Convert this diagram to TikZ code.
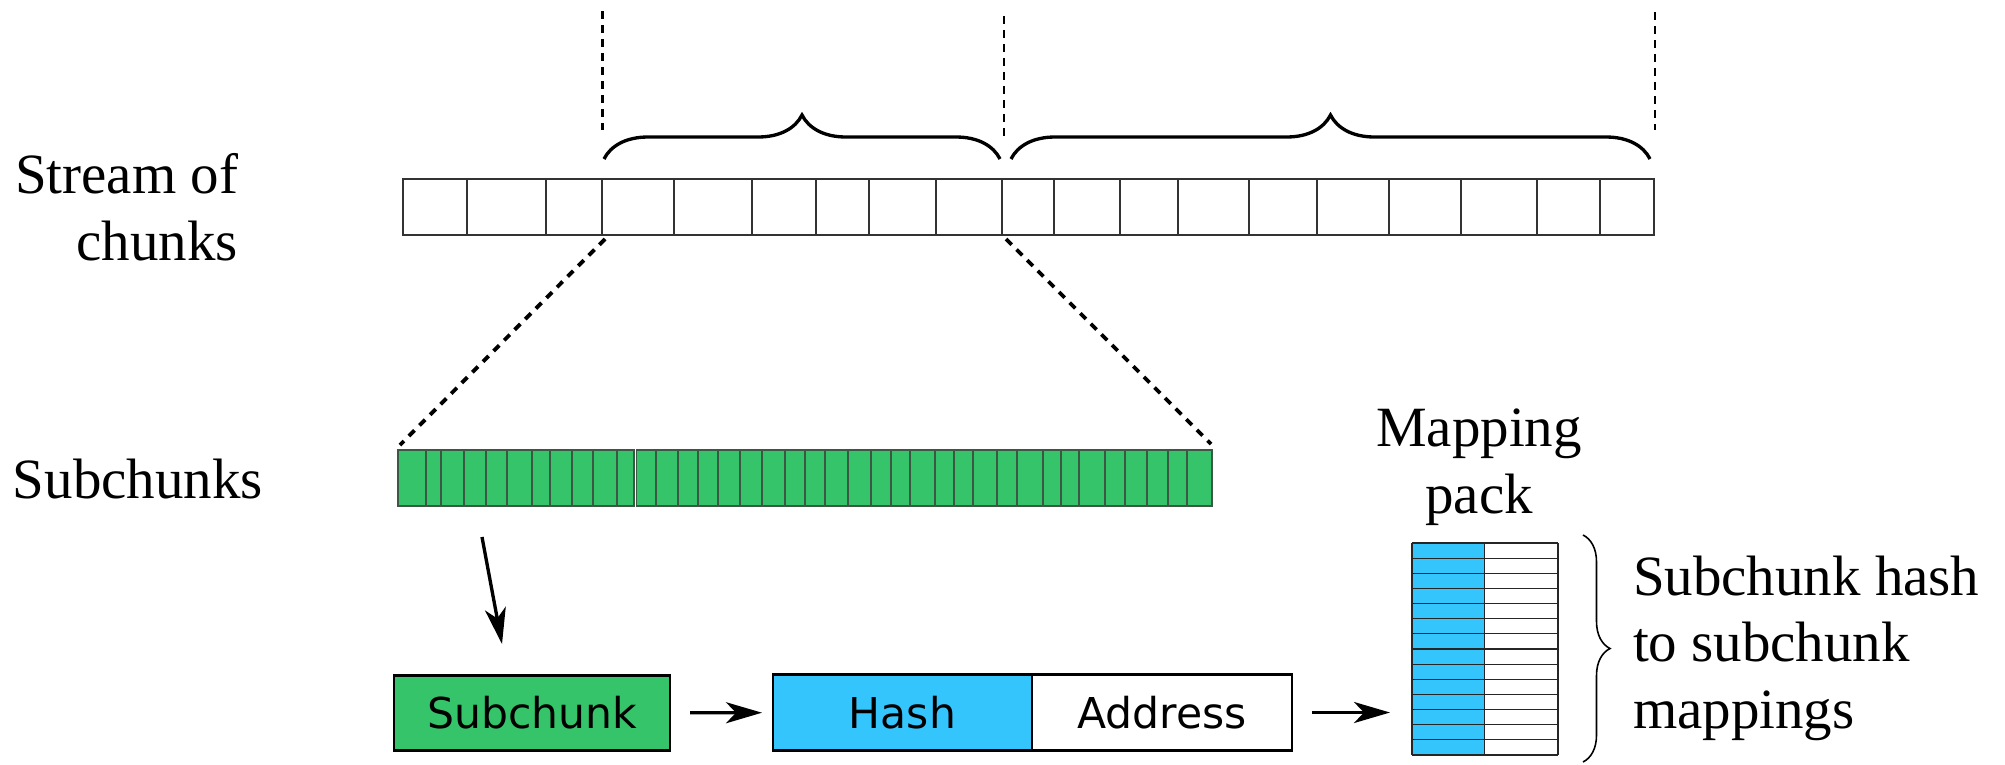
\documentclass[tikz,border=0pt]{standalone}
\usepackage{fontspec}
\setmainfont{Liberation Serif}
\newfontfamily\boxfont{DejaVu Sans}
\usetikzlibrary{decorations.pathreplacing,arrows.meta}
\definecolor{subgreen}{RGB}{53,196,106}
\definecolor{hashblue}{RGB}{52,197,253}
\definecolor{cellline}{RGB}{60,88,68}
\begin{document}
\begin{tikzpicture}[x=0.1mm,y=-0.1mm,
  lbl/.style={font=\fontsize{16.2}{18.9}\selectfont, inner sep=0, outer sep=0},
  boxtxt/.style={font=\boxfont\fontsize{12.1}{14}\selectfont},
  fieldbox/.style={draw=black, line width=0.75pt, minimum height=7.55mm, inner sep=0, outer sep=0, boxtxt},
  arr/.style={line width=0.95pt, -{Stealth[length=3.6mm,width=2.1mm,inset=1mm]}},
  vdash/.style={line width=0.6pt, dash pattern=on 0.8mm off 0.6mm},
  ddash/.style={line width=1.1pt, dash pattern=on 0.8mm off 0.7mm},
  chunkcell/.style={draw=black!80, line width=0.45pt, fill=white},
  subcell/.style={draw=cellline, line width=0.4pt, fill=subgreen},
  bigbrace/.style={decorate, decoration={brace, amplitude=4.4mm}, line width=0.95pt},
  smallbrace/.style={decorate, decoration={brace, amplitude=2.7mm}, line width=0.45pt},
  tline/.style={draw=black!85, line width=0.35pt}
]
\useasboundingbox (0,0) rectangle (2005,764);

% labels (base anchor = baseline of the last line)
\node[lbl, align=right, anchor=base east] (stream) at (238,260) {Stream of\\chunks};
\node[lbl, anchor=base west] (subs) at (13,498) {Subchunks};
\node[lbl, align=center, anchor=base] (mp) at (1479,513) {Mapping\\pack};
\node[lbl, align=left, anchor=base west] (desc) at (1633,728) {Subchunk hash\\to subchunk\\mappings};

% dashed vertical separators
\coordinate (v1t) at (602.5,11);  \coordinate (v1b) at (602.5,130);
\coordinate (v2t) at (1004,16);   \coordinate (v2b) at (1004,137);
\coordinate (v3t) at (1655,12);   \coordinate (v3b) at (1655,130);
\draw[vdash] (v1t) -- (v1b);
\draw[vdash] (v2t) -- (v2b);
\draw[vdash] (v3t) -- (v3b);

% braces over the stream
\coordinate (b1l) at (604,159); \coordinate (b1r) at (1000,159);
\coordinate (b2l) at (1011,159); \coordinate (b2r) at (1650,159);
\draw[bigbrace] (b1l) -- (b1r);
\draw[bigbrace] (b2l) -- (b2r);

% stream of chunks
\foreach \a/\b in {403/467,467/546,546/602,602/674,674/752,752/816,816/869,869/936,936/1002,1002/1054,1054/1120,1120/1178,1178/1249,1249/1317,1317/1389,1389/1461,1461/1537,1537/1600,1600/1654}
  \draw[chunkcell] (\a,179) rectangle (\b,235);

% zoom lines
\coordinate (zl) at (605,239); \coordinate (zr) at (1006,239);
\coordinate (sl) at (400,445); \coordinate (sr) at (1211,444);
\draw[ddash] (zl) -- (sl);
\draw[ddash] (zr) -- (sr);

% subchunks
\foreach \a/\b in {398/426,426/441,441/464,464/486,486/507,507/532,532/550,550/572,572/593,593/617,617/633.8,636.2/656,656/678,678/698,698/718,718/740,740/762,762/785,785/805,805/825,825/848,848/871,871/891,891/910,910/935,935/954,954/973,973/997,997/1017,1017/1043,1043/1061,1061/1079,1079/1105,1105/1125,1125/1147,1147/1168,1168/1187,1187/1212}
  \draw[subcell] (\a,450) rectangle (\b,506);

% record boxes
\node[fieldbox, fill=subgreen, minimum width=27.6mm] (sub) at (532,713) {Subchunk};
\node[fieldbox, fill=hashblue, minimum width=25.9mm] (hash) at (902.5,712.5) {Hash};
\node[fieldbox, fill=white, minimum width=26mm] (addr) at (1162,712.5) {Address};

% mapping pack table
\node[minimum width=14.6mm, minimum height=21.2mm, inner sep=0, outer sep=0] (pack) at (1485,649) {};
\fill[hashblue] (1412,543) rectangle (1484.5,755);
\foreach \k in {0,...,14}
  \draw[tline] (1412,{543+\k*15.143}) -- (1558,{543+\k*15.143});
\draw[tline] (1412,543) -- (1412,755);
\draw[tline, line width=0.55pt] (1484.5,543) -- (1484.5,755);
\draw[tline] (1558,543) -- (1558,755);

% brace beside the table
\coordinate (pbt) at (1583,535); \coordinate (pbb) at (1583,762);
\draw[smallbrace] (pbt) -- (pbb);

% arrows
\coordinate (pick) at (482,537); \coordinate (pickend) at (502,644);
\draw[arr] (pick) -- (pickend);
\draw[arr, shorten <=2mm, shorten >=1.1mm] (sub) -- (hash);
\draw[arr, shorten <=2mm, shorten >=2.2mm] (addr.east) -- (addr.east -| pack.west);
\end{tikzpicture}
\end{document}
